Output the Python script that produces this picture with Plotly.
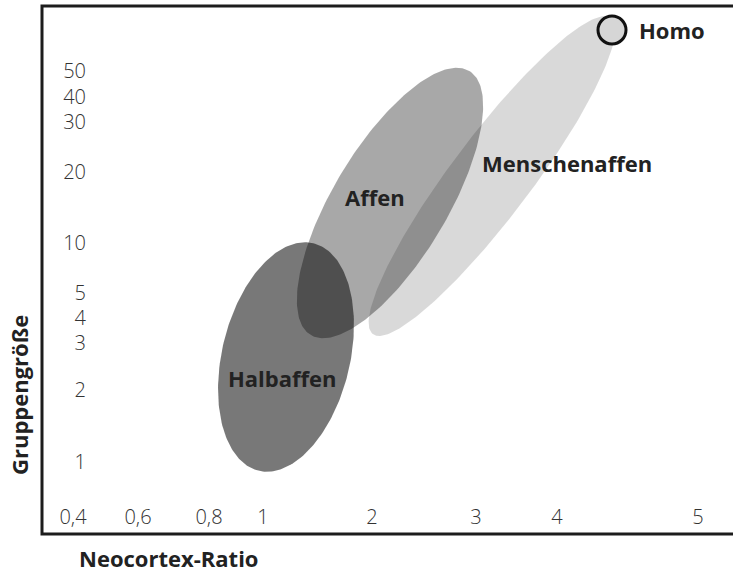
import numpy as np
import plotly.graph_objects as go

# ---- axis ticks (schematic axis, positions in plot units) ----
x_tick_labels = ["0,4", "0,6", "0,8", "1", "2", "3", "4", "5"]
x_tick_pos = [31, 96, 167, 221, 330, 434, 515, 656]
y_tick_labels = ["1", "2", "3", "4", "5", "10", "20", "30", "40", "50"]
y_tick_pos = [72, 144, 191, 216, 241, 291, 362, 412, 437, 463]

# ---- groups drawn as ellipses ----
groups = ["Halbaffen", "Affen", "Menschenaffen"]
center_x = [244, 348, 450]
center_y = [177, 331, 358]
semi_major = [117, 154, 198]
semi_minor = [64, 57, 40]
angle_deg = [76.5, 59, 53]
fill_alpha = [0.53, 0.34, 0.15]
label_x = [240, 333, 525]
label_y = [156, 337, 371]

# ---- Homo point ----
homo_x = [570]
homo_y = [504]

fig = go.Figure()

# draw lightest first
for i in [2, 1, 0]:
    t = np.linspace(0, 2 * np.pi, 240)
    th = np.radians(angle_deg[i])
    xs = center_x[i] + semi_major[i] * np.cos(t) * np.cos(th) - semi_minor[i] * np.sin(t) * np.sin(th)
    ys = center_y[i] + semi_major[i] * np.cos(t) * np.sin(th) + semi_minor[i] * np.sin(t) * np.cos(th)
    fig.add_trace(go.Scatter(
        x=xs, y=ys, mode="lines", fill="toself",
        fillcolor=f"rgba(0,0,0,{fill_alpha[i]})",
        line=dict(width=0), hoverinfo="skip", showlegend=False,
    ))

fig.add_trace(go.Scatter(
    x=homo_x, y=homo_y, mode="markers",
    marker=dict(size=28, color="#d6d6d6", line=dict(color="#111111", width=3)),
    hoverinfo="skip", showlegend=False,
))

label_font = dict(family="Open Sans", size=22, color="#222222")
for i, g in enumerate(groups):
    fig.add_annotation(x=label_x[i], y=label_y[i], text=f"<b>{g}</b>",
                       showarrow=False, font=label_font, xanchor="center", yanchor="middle")
fig.add_annotation(x=homo_x[0] + 25, y=homo_y[0], text="<b>Homo</b>", showarrow=False,
                   font=label_font, xanchor="left", yanchor="middle")

# axis titles
title_font = dict(family="Open Sans", size=22, color="#222222")
fig.add_annotation(xref="paper", yref="paper", x=(168 - 42) / 691, y=(534 - 558) / 528,
                   text="<b>Neocortex-Ratio</b>", showarrow=False, font=title_font,
                   xanchor="center", yanchor="middle")
fig.add_annotation(xref="paper", yref="paper", x=(19 - 42) / 691, y=(534 - 395) / 528,
                   text="<b>Gruppengröße</b>", showarrow=False, font=title_font, textangle=-90,
                   xanchor="center", yanchor="middle")

# frame (left, top, bottom; open to the right)
fig.add_shape(type="rect", xref="paper", yref="paper", x0=0, x1=1.5, y0=0, y1=1,
              line=dict(color="#1c1c1c", width=3), layer="below")

tick_font = dict(family="Open Sans", size=20, color="#333333", weight=300)
fig.update_layout(
    width=733, height=572,
    margin=dict(l=42, r=0, t=6, b=38),
    paper_bgcolor="white", plot_bgcolor="white",
    xaxis=dict(range=[0, 691], showgrid=False, zeroline=False, showline=False,
               tickmode="array", tickvals=x_tick_pos, ticktext=x_tick_labels,
               ticks="", tickfont=tick_font, anchor="free", position=(534 - 503) / 528,
               fixedrange=True),
    yaxis=dict(range=[0, 528], showgrid=False, zeroline=False, showline=False,
               tickmode="array", tickvals=y_tick_pos, ticktext=y_tick_labels,
               ticks="", tickfont=tick_font, anchor="free", position=(86 - 42) / 691,
               fixedrange=True),
)

fig.write_html("out.html", config={"displayModeBar": False},
               post_script="document.body.style.margin='0px';document.body.style.overflow='hidden';")
